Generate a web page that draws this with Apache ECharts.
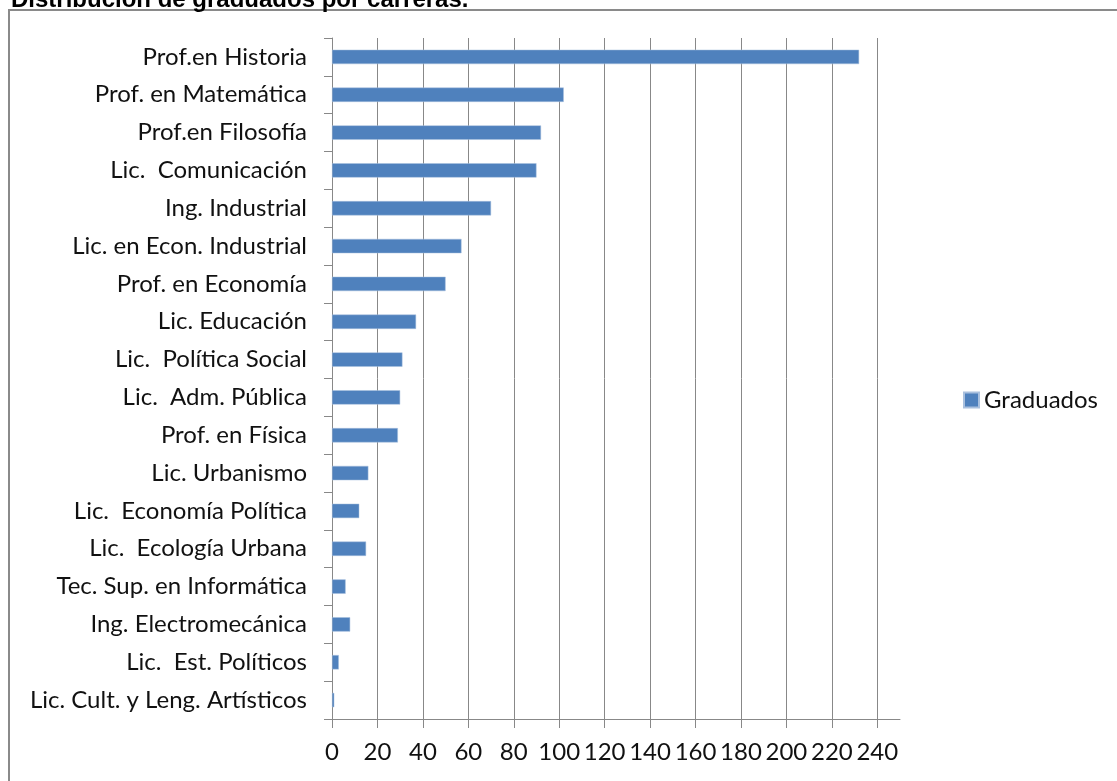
<!DOCTYPE html>
<html>
<head>
<meta charset="utf-8">
<title>Distribución de graduados por carreras</title>
<script src="https://cdn.jsdelivr.net/npm/echarts@6/dist/echarts.min.js"></script>
<style type="text/css">
    html, body{
        margin:0;
        padding:0;
        background:#fff;
    }
    #chart{
        width:1117px;
        height:781px;
    }
</style>
</head>
<body>
<div id="chart"></div>
<script type="text/javascript">
    // carreras, de arriba hacia abajo
    var carreras = [
        'Prof.en Historia',
        'Prof. en Matemática',
        'Prof.en Filosofía',
        'Lic.  Comunicación',
        'Ing. Industrial',
        'Lic. en Econ. Industrial',
        'Prof. en Economía',
        'Lic. Educación',
        'Lic.  Política Social',
        'Lic.  Adm. Pública',
        'Prof. en Física',
        'Lic. Urbanismo',
        'Lic.  Economía Política',
        'Lic.  Ecología Urbana',
        'Tec. Sup. en Informática',
        'Ing. Electromecánica',
        'Lic.  Est. Políticos',
        'Lic. Cult. y Leng. Artísticos'
    ];
    var graduados = [232, 102, 92, 90, 70, 57, 50, 37, 31, 30, 29, 16, 12, 15, 6, 8, 3, 1];
    var ticksX = [0, 20, 40, 60, 80, 100, 120, 140, 160, 180, 200, 220, 240];

    var FONT = 'Lato, "Open Sans", sans-serif';
    var TEXT_COLOR = '#111';
    var LINE_COLOR = '#888';

    (function(){
        var chart = echarts.init(document.getElementById('chart'), null, {renderer:'canvas'});
        var option = {
            animation:false,
            backgroundColor:'#fff',
            title:{
                text:'Distribución de graduados por carreras.',
                left:6,
                top:-17,
                textStyle:{
                    fontFamily:'"Liberation Sans", Arial, sans-serif',
                    fontWeight:'bold',
                    fontSize:24,
                    color:'#000'
                }
            },
            graphic:[{
                // marco del gráfico
                type:'rect',
                shape:{x:9, y:10, width:1200, height:900},
                style:{fill:'none', stroke:'#8a8a8a', lineWidth:2},
                silent:true,
                z:-1
            }],
            legend:{
                data:['Graduados'],
                right:14,
                top:383,
                orient:'vertical',
                icon:'rect',
                itemWidth:15,
                itemHeight:15,
                itemGap:6,
                textStyle:{fontFamily:FONT, fontSize:24, color:TEXT_COLOR}
            },
            grid:{
                left:332,
                right:217,
                top:38,
                bottom:62,
                containLabel:false
            },
            xAxis:{
                type:'value',
                min:0,
                max:250,
                interval:10,
                axisLine:{show:true, lineStyle:{color:LINE_COLOR, width:1}},
                axisTick:{show:true, inside:false, length:9, customValues:ticksX,
                    lineStyle:{color:LINE_COLOR}},
                axisLabel:{customValues:ticksX, margin:21, fontFamily:FONT, fontSize:24, color:TEXT_COLOR},
                splitLine:{show:true, lineStyle:{color:LINE_COLOR, width:1}}
            },
            yAxis:{
                type:'category',
                data:carreras,
                inverse:true,
                boundaryGap:true,
                axisLine:{show:true, lineStyle:{color:LINE_COLOR, width:1}},
                axisTick:{show:true, inside:false, length:8, lineStyle:{color:LINE_COLOR}},
                axisLabel:{margin:25, fontFamily:FONT, fontSize:24, color:TEXT_COLOR},
                splitLine:{show:false}
            },
            series:[{
                name:'Graduados',
                type:'bar',
                data:graduados,
                barWidth:'38%',
                itemStyle:{color:'#4f81bd', borderColor:'#a9c0de', borderWidth:0.5}
            }]
        };
        chart.setOption(option);
    })();
</script>
</body>
</html>
